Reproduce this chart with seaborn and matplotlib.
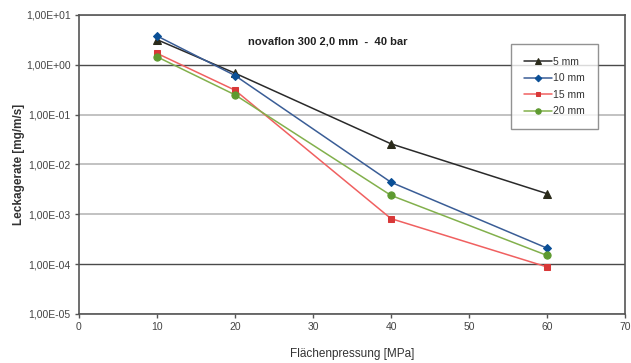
import matplotlib
matplotlib.use("Agg")
import matplotlib.pyplot as plt
import matplotlib.ticker as mticker
import seaborn as sns
import pandas as pd
import numpy as np

# Surface pressure [MPa]
pressure = [10, 20, 40, 60]

# Leakage rate [mg/m/s] per seal width
leak_5mm = [3.2, 0.68, 0.026, 0.0026]
leak_10mm = [3.8, 0.61, 0.0044, 0.00021]
leak_15mm = [1.7, 0.31, 0.00082, 0.000088]
leak_20mm = [1.45, 0.25, 0.0024, 0.00015]

series_labels = ["5 mm", "10 mm", "15 mm", "20 mm"]
x_ticks = [0, 10, 20, 30, 40, 50, 60, 70]
y_ticks = [1e-5, 1e-4, 1e-3, 1e-2, 1e-1, 1e0, 1e1]

df = pd.DataFrame({
    "pressure": pressure * 4,
    "leak": leak_5mm + leak_10mm + leak_15mm + leak_20mm,
    "series": [s for s in series_labels for _ in pressure],
})

sns.set_theme(style="white")
plt.rcParams["font.family"] = ["Liberation Sans", "DejaVu Sans"]

fig = plt.figure(figsize=(6.31, 3.63), dpi=100)
ax = fig.add_axes([79 / 631, 1 - 314 / 363, 546 / 631, 299 / 363])

styles = {
    "5 mm": dict(line="#2a2a2a", mfc="#2a2a1a", marker="^", ms=5.5),
    "10 mm": dict(line="#3a5d96", mfc="#0a4f96", marker="D", ms=4.5),
    "15 mm": dict(line="#f06060", mfc="#d83838", marker="s", ms=4.2),
    "20 mm": dict(line="#82b04c", mfc="#5e9a30", marker="o", ms=5.2),
}

for name in series_labels:
    st = styles[name]
    sub = df[df["series"] == name]
    sns.lineplot(data=sub, x="pressure", y="leak", ax=ax, color=st["line"],
                 lw=1.1, marker=st["marker"], markersize=st["ms"],
                 markerfacecolor=st["mfc"], markeredgecolor=st["mfc"],
                 label=name, estimator=None, zorder=3)

ax.set_yscale("log")
ax.set_xlim(0, 70)
ax.set_ylim(1e-5, 1e1)
ax.set_xticks(x_ticks)
ax.set_yticks(y_ticks)
ax.yaxis.set_minor_locator(mticker.NullLocator())


def sci_comma(v, pos):
    exp = int(round(np.log10(v)))
    sign = "+" if exp >= 0 else "-"
    return f"1,00E{sign}{abs(exp):02d}"


ax.yaxis.set_major_formatter(mticker.FuncFormatter(sci_comma))

ax.grid(axis="y", color="#bdbdbd", lw=1.3, zorder=1)
ax.grid(axis="x", visible=False)
for val, gl in zip(y_ticks, ax.get_ygridlines()):
    if val in (1e0, 1e-4):
        gl.set_color("#4a4a4a")
        gl.set_linewidth(1.0)

for sp in ax.spines.values():
    sp.set_color("#555555")
    sp.set_linewidth(1.2)
    sp.set_visible(True)

ax.tick_params(axis="both", which="major", direction="out", length=3,
               width=1, color="#555555", labelsize=7.5, labelcolor="#444444",
               pad=3, bottom=True, left=True)

ax.set_xlabel("Flächenpressung [MPa]", fontsize=8.5, color="#333333",
              labelpad=11)
ax.set_ylabel("Leckagerate [mg/m/s]", fontsize=8.5, color="#333333",
              fontweight="bold", labelpad=1)

ax.text(0.456, 0.91, "novaflon 300 2,0 mm  -  40 bar", transform=ax.transAxes,
        ha="center", va="center", fontsize=8, fontweight="bold",
        color="#222222")

leg = ax.legend(loc="upper right",
                bbox_to_anchor=((598 - 79) / 546, 1 - (44 - 15) / 299),
                frameon=True, fancybox=False, fontsize=7.5, handlelength=2.7,
                handletextpad=0.15, labelspacing=0.62, borderpad=1.25,
                borderaxespad=0, markerscale=0.75)
leg.get_frame().set_edgecolor("#777777")
leg.get_frame().set_linewidth(1.0)
for t in leg.get_texts():
    t.set_color("#333333")

fig.savefig("out.png", dpi=100)
